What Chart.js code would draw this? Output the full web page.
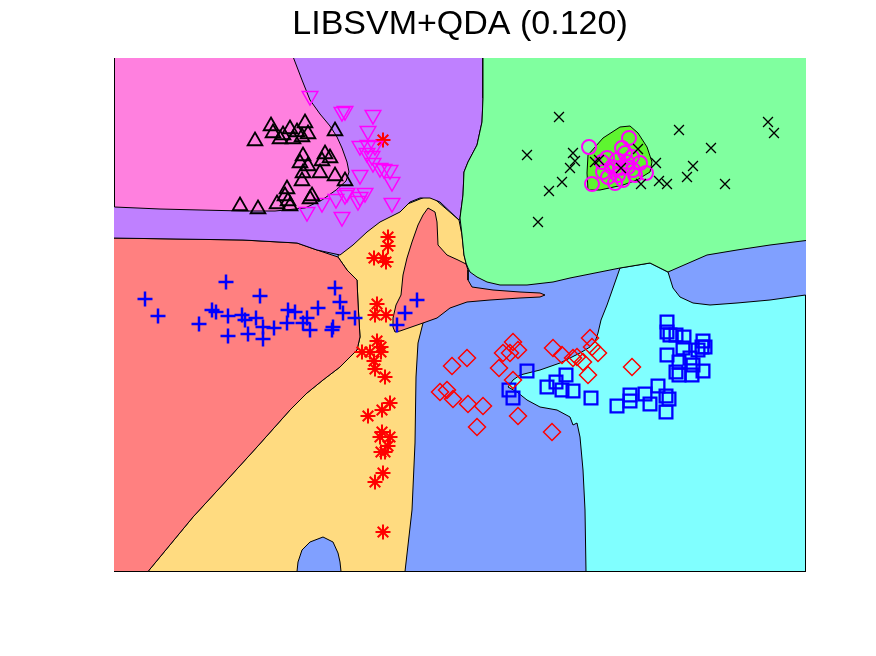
<!DOCTYPE html>
<html>
<head>
<meta charset="utf-8">
<title>LIBSVM+QDA</title>
<script src="https://cdn.jsdelivr.net/npm/chart.js@4.4.1/dist/chart.umd.min.js"></script>
<style>
  html, body { margin: 0; padding: 0; background: #fff; }
  #wrap { width: 876px; height: 656px; }
</style>
</head>
<body>
<div id="wrap"><canvas id="chart" width="876" height="656"></canvas></div>
<script>
const titleText = 'LIBSVM+QDA (0.120)';
const xRange = [114, 806];
const yRange = [58, 572];

// decision regions, outline vertices (bottom layer first)
const regionBlue = [[110,54],[810,54],[810,571.5],[110,571.5]];
const regionYellow = [[338,257],[340,245],[380,215],[430,195],[459,220],[462,235],[464,255],[466,263],[445,290],[423,323],[418,343],[416,377],[415,443],[412,510],[405,571.5],[148,571.5],[193,517],[227,480],[257,447],[290,410],[307,393],[323,380],[340,367],[357,350],[360,337],[358,303],[357,280],[347,270]];
const regionSalmonLeft = [[110,238],[177,239],[243,240],[297,243],[317,250],[338,257],[347,270],[357,280],[358,303],[360,337],[357,350],[340,367],[323,380],[307,393],[290,410],[257,447],[227,480],[193,517],[148,571.5],[110,571.5]];
const regionSalmonMid = [[428,208],[435,212],[437,222],[438,245],[447,255],[458,260],[466,264],[468,270],[468,280],[472,287],[493,290],[520,292],[540,293],[545,295],[540,297],[520,298],[490,300],[467,302],[450,308],[437,318],[423,323],[400,331],[395,332],[393,327],[393,318],[396,305],[401,295],[403,275],[407,258],[412,242],[418,225],[423,215]];
const regionBlueBlob = [[297,571.5],[298,562],[302,550],[310,542],[323,537],[333,542],[338,553],[340,562],[341,571.5]];
const regionCyan = [[620,268],[650,263],[668,272],[673,288],[680,297],[693,303],[710,305],[737,303],[770,300],[805.5,295],[805.5,571.5],[586,571.5],[585,510],[583,470],[580,437],[577,423],[573,425],[570,417],[557,410],[540,407],[527,400],[517,392],[508,387],[513,380],[520,375],[540,370],[560,363],[580,353],[590,347],[595,342],[598,333],[601,320],[607,305],[613,288]];
const regionPurple = [[110,54],[483,54],[483,98],[482,122],[477,145],[468,162],[464,172],[463,195],[460,218],[459,220],[440,202],[430,198],[420,198],[410,202],[400,212],[390,217],[380,222],[367,232],[353,245],[340,255],[317,250],[297,243],[243,240],[177,239],[110,238]];
const regionPink = [[114.5,54],[292,54],[302,80],[310,100],[320,114],[330,126],[337,137],[342,148],[347,162],[349,172],[346,181],[336,190],[322,200],[305,208],[275,211],[243,211],[200,210],[160,209],[114.5,207]];
const regionGreen = [[483,54],[810,54],[810,240],[770,245],[737,250],[707,255],[668,272],[650,263],[620,268],[570,278],[553,282],[527,285],[500,285],[487,282],[477,277],[470,272],[468,268],[466,263],[464,255],[462,235],[460,218],[463,195],[464,172],[468,162],[477,145],[482,122],[483,98]];
const regionBrightGreen = [[588,155],[603,138],[620,127],[630,126],[638,133],[647,147],[652,162],[650,172],[637,180],[623,185],[600,190],[588,190],[587,173]];

// samples
const triangles = [[255,141],[271,126],[273,133],[283,135],[290,129],[297,132],[305,123],[302,137],[293,139],[280,139],[308,134],[335,131],[303,156],[300,163],[325,154],[330,158],[322,161],[308,166],[320,173],[335,176],[303,173],[302,181],[345,181],[287,189],[285,196],[288,201],[312,196],[310,199],[277,204],[258,209],[240,206],[290,206]];
const invTriangles = [[310,96],[342,112],[345,111],[373,115],[368,131],[360,146],[368,145],[375,146],[367,153],[372,156],[373,163],[380,168],[384,169],[390,170],[392,182],[360,175],[347,193],[345,195],[360,197],[365,193],[358,201],[336,199],[322,203],[307,212],[342,217],[392,203]];
const stars = [[383,140],[388,237],[388,246],[374,258],[383,258],[386,262],[377,304],[375,315],[386,315],[377,341],[381,347],[362,352],[370,352],[381,352],[374,361],[375,369],[385,377],[390,403],[382,410],[368,416],[382,432],[390,437],[380,437],[388,446],[381,452],[385,452],[383,473],[375,482],[383,532]];
const pluses = [[145,299],[158,316],[199,324],[212,310],[216,312],[226,282],[228,316],[228,336],[242,315],[245,320],[248,334],[256,318],[260,296],[263,327],[263,339],[274,328],[287,323],[288,310],[295,312],[303,323],[307,318],[310,330],[318,308],[332,330],[333,327],[335,288],[340,302],[343,313],[355,318],[397,325],[405,313],[417,300]];
const crosses = [[559,117],[527,155],[573,153],[575,161],[570,168],[562,182],[549,191],[538,222],[679,130],[768,122],[774,133],[711,148],[693,166],[687,177],[725,184],[656,163],[659,181],[667,184],[641,184],[638,149],[621,168],[595,162],[599,160]];
const circles = [[589,147],[629,138],[592,184],[646,173],[622,148],[625,153],[632,157],[628,167],[633,170],[635,175],[617,160],[612,167],[607,158],[603,172],[608,177],[618,175],[623,180],[615,183],[602,162],[640,163],[627,162],[620,168]];
const diamonds = [[452,366],[467,358],[440,392],[447,390],[453,399],[468,404],[483,406],[477,427],[499,368],[503,353],[513,342],[510,353],[518,350],[513,380],[518,416],[553,348],[562,355],[573,358],[577,357],[583,362],[590,338],[592,347],[598,353],[588,375],[632,367],[552,432]];
const squares = [[527,371],[509,390],[513,398],[547,387],[556,382],[566,375],[562,390],[573,391],[591,398],[617,406],[630,395],[630,401],[645,394],[650,404],[658,386],[666,396],[669,399],[666,412],[667,322],[667,332],[670,335],[676,335],[684,337],[683,348],[667,355],[679,362],[690,358],[693,365],[676,372],[679,375],[692,375],[703,371],[703,341],[702,347],[705,347],[698,350]];

const regionLayers = [
  { data: regionBlue, color: '#80A0FF' },
  { data: regionYellow, color: '#FFDB80' },
  { data: regionSalmonLeft, color: '#FF8080' },
  { data: regionSalmonMid, color: '#FF8080' },
  { data: regionBlueBlob, color: '#80A0FF' },
  { data: regionCyan, color: '#80FFFF' },
  { data: regionPurple, color: '#BF80FF' },
  { data: regionPink, color: '#FF80DF' },
  { data: regionGreen, color: '#80FF9F' },
  { data: regionBrightGreen, color: '#5EF530' }
];

const markerSets = [
  { data: triangles, style: 'triangle', rot: 0, r: 8.5, w: 1.8, color: '#000000' },
  { data: invTriangles, style: 'triangle', rot: 180, r: 9, w: 1.5, color: '#FF00FF' },
  { data: stars, style: 'star', rot: 0, r: 7.5, w: 2, color: '#FF0000' },
  { data: pluses, style: 'cross', rot: 0, r: 7.5, w: 2.5, color: '#0000FF' },
  { data: crosses, style: 'crossRot', rot: 0, r: 7, w: 1.3, color: '#000000' },
  { data: circles, style: 'circle', rot: 0, r: 7, w: 2, color: '#FF00FF' },
  { data: diamonds, style: 'rectRot', rot: 0, r: 8.5, w: 1.5, color: '#FF0000' },
  { data: squares, style: 'rect', rot: 0, r: 9, w: 2.3, color: '#0000FF' }
];

const toPts = arr => arr.map(([x, y]) => ({ x, y }));

const datasets = [];
regionLayers.forEach((layer, i) => {
  const pts = toPts(layer.data);
  pts.push(pts[0]); // close outline
  datasets.push({
    data: pts,
    showLine: true,
    fill: 'shape',
    backgroundColor: layer.color,
    borderColor: '#000',
    borderWidth: 1,
    tension: 0,
    pointRadius: 0,
    pointHoverRadius: 0,
    pointHitRadius: 0,
    clip: 0,
    order: 100 - i
  });
});
markerSets.forEach(m => {
  datasets.push({
    data: toPts(m.data),
    showLine: false,
    pointStyle: m.style,
    pointRotation: m.rot,
    pointRadius: m.r,
    pointHoverRadius: m.r,
    pointBorderWidth: m.w,
    pointBorderColor: m.color,
    pointBackgroundColor: 'rgba(0,0,0,0)',
    order: 0
  });
});

new Chart(document.getElementById('chart'), {
  type: 'scatter',
  data: { datasets },
  options: {
    responsive: false,
    animation: false,
    events: [],
    layout: { padding: { left: 114, right: 70, top: 0, bottom: 84 } },
    scales: {
      x: { type: 'linear', min: xRange[0], max: xRange[1], display: false },
      y: { type: 'linear', min: yRange[0], max: yRange[1], reverse: true, display: false }
    },
    plugins: {
      legend: { display: false },
      tooltip: { enabled: false },
      title: {
        display: true,
        text: titleText,
        color: '#000',
        font: { family: "'Liberation Sans', Arial, sans-serif", size: 34, weight: 'normal', lineHeight: 1.2 },
        padding: { top: 4, bottom: 13.2 }
      }
    }
  }
});
</script>
</body>
</html>
